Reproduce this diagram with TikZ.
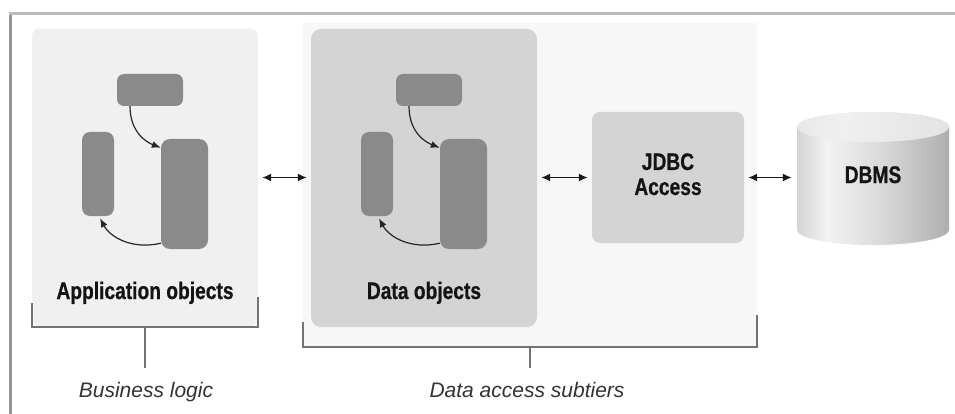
\documentclass[tikz,border=0pt]{standalone}
\usepackage{fontspec}
\usetikzlibrary{arrows.meta}
\newfontfamily\condfont{Liberation Sans}[FakeStretch=0.8, FakeBold=0.6]
\newfontfamily\plainfont{Liberation Sans}
\definecolor{appfill}{HTML}{F0F0F0}
\definecolor{dafill}{HTML}{F7F7F7}
\definecolor{objfill}{HTML}{D4D4D4}
\definecolor{blkfill}{HTML}{8A8A8A}
\definecolor{brkcol}{HTML}{737373}
\pgfdeclarehorizontalshading{cylbody}{100bp}{color(0bp)=(black!17); color(25bp)=(black!17); color(35bp)=(black!5); color(50bp)=(black!13); color(68bp)=(black!26); color(75bp)=(black!32); color(100bp)=(black!32)}
\pgfdeclarehorizontalshading{cyltop}{100bp}{color(0bp)=(black!9); color(25bp)=(black!9); color(40bp)=(black!6); color(75bp)=(black!11); color(100bp)=(black!11)}
\tikzset{
  panel/.style={rectangle, draw=none, inner sep=0pt},
  blk/.style={rectangle, draw=none, fill=blkfill, inner sep=0pt, rounded corners=8pt},
  inarrow/.style={-{Latex[length=9pt,width=7pt]}, line width=1.2pt, black!85},
  dbl/.style={{Latex[length=9pt,width=8pt]}-{Latex[length=9pt,width=8pt]}, line width=1.5pt, black!90, shorten <=4pt, shorten >=4pt},
  brk/.style={draw=brkcol, line width=2pt},
  lbl/.style={inner sep=0pt, font=\condfont\bfseries\fontsize{24}{26}\selectfont, text=black!92},
  itl/.style={inner sep=0pt, font=\plainfont\itshape\fontsize{21}{23}\selectfont, text=black!80},
  inner/.pic={
    \node[blk, minimum width=66pt, minimum height=32pt, rounded corners=7pt] (-t) at (150,90) {};
    \node[blk, minimum width=32pt, minimum height=84pt] (-l) at (98,174) {};
    \node[blk, minimum width=47pt, minimum height=110pt, rounded corners=9pt] (-r) at (184.5,194) {};
    \draw[inarrow] ([xshift=-20pt]-t.south) .. controls (130,132) and (146,142) .. ([yshift=-9pt]-r.north west);
    \draw[inarrow] ([yshift=6pt]-r.south west) .. controls (132,250) and (110,237) .. ([xshift=2pt,yshift=-2pt]-l.south);
  }
}
\begin{document}
\begin{tikzpicture}[x=1pt,y=-1pt]
\useasboundingbox[fill=white] (0,0) rectangle (955,414);
% outer frame
\draw[line width=3pt, black!42] (10.5,414) -- (10.5,12);
\draw[line width=3pt, black!27] (9,13.5) -- (955,13.5);
% panels
\node[panel, fill=appfill, rounded corners=8pt, minimum width=226pt, minimum height=298pt] (app) at (145,177.5) {};
\node[panel, fill=dafill, minimum width=454pt, minimum height=324pt] (da) at (530,185) {};
\node[panel, fill=objfill, rounded corners=10pt, minimum width=226pt, minimum height=298pt] (dobj) at (424,178) {};
\node[panel, fill=objfill, rounded corners=8pt, minimum width=152pt, minimum height=131pt] (jdbc) at (668,177.5) {};
\node[panel, minimum width=152pt, minimum height=133pt] (dbms) at (873,177.5) {};
% inner object groups
\pic (A) at (0,0) {inner};
\pic (D) at (279,0) {inner};
% DBMS cylinder
\shade[shading=cylbody] (797,127) -- (797,230) arc[start angle=180, end angle=0, x radius=76, y radius=15] -- (949,127) arc[start angle=0, end angle=-180, x radius=76, y radius=15] -- cycle;
\shade[shading=cyltop] (873,127) ellipse[x radius=76, y radius=15];
% labels
\node[lbl, anchor=base] (applbl) at (145,299) {Application objects};
\node[lbl, anchor=base] (dobjlbl) at (424,299) {Data objects};
\node[lbl, anchor=base] (jdbclbl) at (668,170) {JDBC};
\node[lbl, anchor=base] (acclbl) at (668,195) {Access};
\node[lbl, anchor=base] (dbmslbl) at (873,183) {DBMS};
% double arrows
\draw[dbl] (app.east) -- (dobj.west |- app.east);
\draw[dbl] (dobj.east |- jdbc.west) -- (jdbc.west);
\draw[dbl] (jdbc.east) -- ([xshift=-1pt]dbms.west);
% brackets
\draw[brk] ([yshift=24pt]app.south west) -- (app.south west) -- (app.south east) -- ([yshift=30pt]app.south east);
\coordinate (bizend) at (145,368);
\draw[brk] (app.south) -- (bizend);
\draw[brk] ([yshift=25pt]da.south west) -- (da.south west) -- (da.south east) -- ([yshift=32pt]da.south east);
\coordinate (daend) at (530,368);
\draw[brk] (da.south) -- (daend);
\node[itl, anchor=base] (biz) at (146,397) {Business logic};
\node[itl, anchor=base] (dasub) at (527,397) {Data access subtiers};
\end{tikzpicture}
\end{document}
